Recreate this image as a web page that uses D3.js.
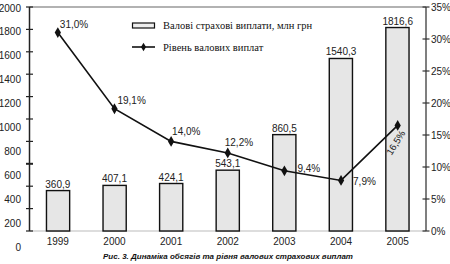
<!DOCTYPE html>
<html>
<head>
<meta charset="utf-8">
<script src="https://d3js.org/d3.v7.min.js"></script>
<style>
body { margin:0; background:#fff; }
text { font-family: "Liberation Sans", Arial, sans-serif; }
</style>
</head>
<body>
<svg id="chart"></svg>
<script>
var years = ['1999', '2000', '2001', '2002', '2003', '2004', '2005'];
var payouts = [360.9, 407.1, 424.1, 543.1, 860.5, 1540.3, 1816.6];   // млн грн
var levels = [31.0, 19.1, 14.0, 12.2, 9.4, 7.9, 16.5];               // %
var leftTicks = [0, 200, 400, 600, 800, 1000, 1200, 1400, 1600, 1800, 2000];
var rightTicks = [0, 5, 10, 15, 20, 25, 30, 35];
var legendLabels = ['Валові страхові виплати, млн грн', 'Рівень валових виплат'];
var caption = 'Рис. 3. Динаміка обсягів та рівня валових страхових виплат';

var W = 450, H = 264;
// plot edges (window.top is taken, so own names)
var pLeft = 29.5, pRight = 426, pTop = 7, pBottom = 231;

var svg = d3.select('#chart').attr('width', W).attr('height', H);

var x = d3.scaleBand().domain(years).range([pLeft, pRight]).paddingInner(0.59).paddingOuter(0.3);
var xc = d3.scalePoint().domain(years).range([pLeft, pRight]).padding(0.5);
var y = d3.scaleLinear().domain([0, 2000]).range([pBottom, pTop]);
var y2 = d3.scaleLinear().domain([0, 35]).range([pBottom, pTop]);
// labels on the left axis drift down a bit in the original
var yLab = d3.scaleLinear().domain([0, 2000]).range([247, 8]);

function fmt(v) { return d3.format('.1f')(v).replace('.', ','); }

// frame lines
svg.append('line').attr('x1', pLeft).attr('x2', pRight).attr('y1', pTop).attr('y2', pTop)
  .attr('stroke', '#666').attr('stroke-width', 1.2);
svg.append('line').attr('x1', pLeft).attr('x2', pRight).attr('y1', pBottom).attr('y2', pBottom)
  .attr('stroke', '#bbb').attr('stroke-width', 1.2);

// left axis
svg.append('line').attr('x1', pLeft).attr('x2', pLeft).attr('y1', pTop).attr('y2', pBottom)
  .attr('stroke', '#222').attr('stroke-width', 1.5);
svg.selectAll('.lt').data(leftTicks).enter().append('line')
  .attr('x1', pLeft - 3.5).attr('x2', pLeft + 3.5)
  .attr('y1', function (d) { return y(d); }).attr('y2', function (d) { return y(d); })
  .attr('stroke', '#222').attr('stroke-width', function (d) { return d === 600 ? 2 : 1.2; });
svg.selectAll('.ll').data(leftTicks).enter().append('text')
  .attr('x', 21).attr('y', function (d) { return yLab(d); }).attr('dy', '0.35em')
  .attr('text-anchor', 'end').attr('font-size', 10).attr('fill', '#222')
  .text(function (d) { return d; });

// right axis
svg.append('line').attr('x1', pRight).attr('x2', pRight).attr('y1', pTop).attr('y2', pBottom)
  .attr('stroke', '#555').attr('stroke-width', 1.5);
svg.selectAll('.rt').data(rightTicks).enter().append('line')
  .attr('x1', pRight - 3.5).attr('x2', pRight + 3.5)
  .attr('y1', function (d) { return y2(d); }).attr('y2', function (d) { return y2(d); })
  .attr('stroke', '#333').attr('stroke-width', 1.2);
svg.selectAll('.rl').data(rightTicks).enter().append('text')
  .attr('x', pRight + 5).attr('y', function (d) { return y2(d); }).attr('dy', '0.35em')
  .attr('font-size', 10).attr('fill', '#222')
  .text(function (d) { return d + '%'; });

// bars
svg.selectAll('.bar').data(payouts).enter().append('rect')
  .attr('x', function (d, i) { return x(years[i]); })
  .attr('y', function (d) { return y(d); })
  .attr('width', x.bandwidth())
  .attr('height', function (d) { return pBottom - y(d); })
  .attr('fill', '#e6e6e6').attr('stroke', '#111').attr('stroke-width', 1.4);
svg.selectAll('.bv').data(payouts).enter().append('text')
  .attr('x', function (d, i) { return xc(years[i]); })
  .attr('y', function (d) { return y(d) - 3; })
  .attr('text-anchor', 'middle').attr('font-size', 10).attr('fill', '#222')
  .text(fmt);

// years
svg.selectAll('.yr').data(years).enter().append('text')
  .attr('x', function (d) { return xc(d); }).attr('y', 245)
  .attr('text-anchor', 'middle').attr('font-size', 10).attr('fill', '#222')
  .text(function (d) { return d; });

// line
var line = d3.line().x(function (d, i) { return xc(years[i]); }).y(function (d) { return y2(d); });
svg.append('path').datum(levels).attr('d', line)
  .attr('fill', 'none').attr('stroke', '#111').attr('stroke-width', 1.6);
var diamond = d3.symbol().type(d3.symbolDiamond).size(34);
svg.selectAll('.pt').data(levels).enter().append('path')
  .attr('d', diamond)
  .attr('transform', function (d, i) { return 'translate(' + xc(years[i]) + ',' + y2(d) + ')'; })
  .attr('fill', '#111');

// line labels, placed like the original
var off = [[2, -5], [3, -5], [1, -6], [-3, -7], [13, 1], [12, 5], [1, 19]];
svg.selectAll('.lv').data(levels).enter().append('text')
  .attr('transform', function (d, i) {
    var px = xc(years[i]) + off[i][0], py = y2(d) + off[i][1];
    return 'translate(' + px + ',' + py + ')' + (i === 6 ? ' rotate(-58)' : '');
  })
  .attr('text-anchor', function (d, i) { return i === 6 ? 'middle' : 'start'; })
  .attr('font-size', function (d, i) { return i === 6 ? 9.5 : 10; }).attr('fill', '#222')
  .text(function (d) { return fmt(d) + '%'; });

// legend
var lg = svg.append('g').attr('transform', 'translate(132,0)');
lg.append('rect').attr('x', 0.5).attr('y', 23).attr('width', 22).attr('height', 5)
  .attr('fill', '#eee').attr('stroke', '#111').attr('stroke-width', 1.2);
lg.append('line').attr('x1', 0).attr('x2', 23).attr('y1', 47).attr('y2', 47)
  .attr('stroke', '#111').attr('stroke-width', 1.6);
lg.append('path').attr('d', d3.symbol().type(d3.symbolDiamond).size(22))
  .attr('transform', 'translate(11.5,47)').attr('fill', '#111');
lg.selectAll('.lgt').data(legendLabels).enter().append('text')
  .attr('x', 31).attr('y', function (d, i) { return i ? 47 : 25.5; }).attr('dy', '0.35em')
  .style('font-family', '"Liberation Serif", serif').attr('font-size', 10.5).attr('fill', '#111')
  .text(function (d) { return d; });

// caption
svg.append('text').attr('x', 228).attr('y', 259).attr('text-anchor', 'middle')
  .attr('font-size', 8).attr('font-weight', 'bold').attr('font-style', 'italic').attr('fill', '#111')
  .text(caption);
</script>
</body>
</html>
